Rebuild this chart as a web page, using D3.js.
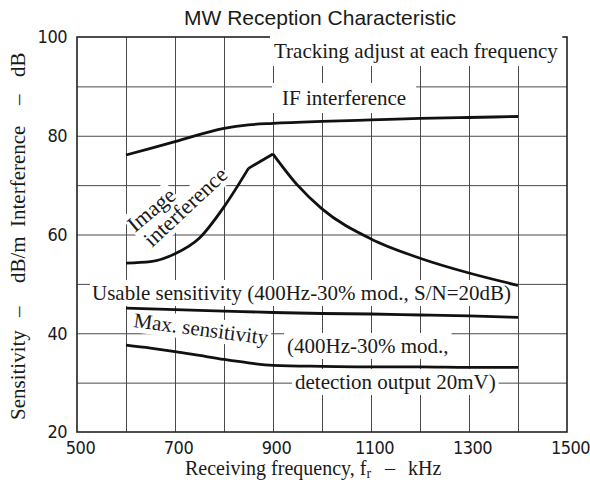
<!DOCTYPE html>
<html><head><meta charset="utf-8">
<script src="https://cdn.jsdelivr.net/npm/d3@7/dist/d3.min.js"></script>
<style>
body{margin:0;background:#fff}
svg{display:block}
</style></head><body>
<svg id="chart" width="590" height="488"></svg>
<script>
// ---- data ----
const xTicks = [500, 700, 900, 1100, 1300, 1500];
const yTicks = [20, 40, 60, 80, 100];

const ifFreq   = [600, 700, 800, 850, 900, 1000, 1100, 1200, 1300, 1400];
const ifValues = [76.1, 78.8, 81.5, 82.2, 82.5, 82.9, 83.2, 83.5, 83.7, 83.9];

const imageFreq   = [600, 650, 700, 750, 800, 850, 900, 950, 1000, 1100, 1200, 1300, 1400];
const imageValues = [54.2, 54.5, 56.1, 59.3, 65.6, 73.4, 76.3, 70.0, 65.2, 59.1, 55.2, 52.2, 49.7];

const usableFreq   = [600, 700, 800, 900, 1000, 1100, 1200, 1300, 1400];
const usableValues = [45.1, 44.8, 44.5, 44.2, 44.0, 43.9, 43.7, 43.5, 43.2];

const maxFreq   = [600, 650, 700, 750, 800, 850, 900, 1000, 1100, 1200, 1300, 1400];
const maxValues = [37.6, 37.0, 36.3, 35.5, 34.7, 34.0, 33.5, 33.3, 33.2, 33.2, 33.1, 33.1];

// ---- setup ----
const svg = d3.select("#chart");
const x = d3.scaleLinear().domain([500, 1500]).range([77, 567]);
const y = d3.scaleLinear().domain([20, 100]).range([432, 37]);
const serif = "'Liberation Serif','Times New Roman',serif";
const tickFont = "'Liberation Sans Narrow','Arial Narrow','DejaVu Sans Condensed',sans-serif";
const ink = "#1a1a1a";

svg.append("rect").attr("width", 590).attr("height", 488).attr("fill", "#fff");

const gridLayer = svg.append("g");
const boxLayer = svg.append("g");
const curveLayer = svg.append("g");
const textLayer = svg.append("g");

// grid via axes
gridLayer.append("g")
  .attr("transform", `translate(0,${y(20)})`)
  .call(d3.axisBottom(x).tickValues(d3.range(600, 1500, 100)).tickSize(-(y(20) - y(100))).tickFormat(""))
  .call(g => g.select(".domain").remove())
  .call(g => g.selectAll("line").attr("stroke", "#4a4a4a").attr("stroke-width", 1));
gridLayer.append("g")
  .attr("transform", `translate(${x(500)},0)`)
  .call(d3.axisLeft(y).tickValues(d3.range(30, 100, 10)).tickSize(-(x(1500) - x(500))).tickFormat(""))
  .call(g => g.select(".domain").remove())
  .call(g => g.selectAll("line").attr("stroke", "#4a4a4a").attr("stroke-width", 1));

// frame
gridLayer.append("rect")
  .attr("x", x(500)).attr("y", y(100))
  .attr("width", x(1500) - x(500)).attr("height", y(20) - y(100))
  .attr("fill", "none").attr("stroke", "#222").attr("stroke-width", 1.6);

// tick labels
const xAxisG = svg.append("g")
  .attr("transform", `translate(3,${y(20)})`)
  .call(d3.axisBottom(x).tickValues(xTicks).tickSize(0).tickPadding(9).tickFormat(d3.format("d")));
xAxisG.select(".domain").remove();
xAxisG.selectAll("text").attr("font-family", tickFont).attr("font-size", 18).attr("fill", ink).attr("letter-spacing", -0.5);

const yAxisG = svg.append("g")
  .attr("transform", `translate(${x(500)},0)`)
  .call(d3.axisLeft(y).tickValues(yTicks).tickSize(0).tickPadding(10).tickFormat(d3.format("d")));
yAxisG.select(".domain").remove();
yAxisG.selectAll("text").attr("font-family", tickFont).attr("font-size", 18).attr("fill", ink).attr("letter-spacing", -0.5);

// title
svg.append("text").attr("x", 320).attr("y", 25).attr("text-anchor", "middle")
  .attr("font-family", "'Liberation Sans',Arial,sans-serif").attr("font-size", 21).attr("fill", ink)
  .text("MW Reception Characteristic");

// x axis title
const xt = svg.append("text").attr("y", 475).attr("font-family", serif).attr("font-size", 20).attr("fill", ink);
xt.append("tspan").attr("x", 185).text("Receiving frequency, f");
xt.append("tspan").attr("font-size", 14).attr("dy", 3).text("r");
xt.append("tspan").attr("x", 385).attr("dy", -3).text("–");
xt.append("tspan").attr("x", 408).text("kHz");

// y axis title
const yt = svg.append("text").attr("transform", "translate(25,420) rotate(-90)")
  .attr("font-family", serif).attr("font-size", 21).attr("fill", ink);
[[0, "Sensitivity"], [103, "–"], [137, "dB/m"], [193, "Interference"], [315, "–"], [343, "dB"]]
  .forEach(([px, t]) => yt.append("tspan").attr("x", px).text(t));

// curves
const line = (curve) => d3.line().x(d => x(d[0])).y(d => y(d[1])).curve(curve);
const zipped = (f, v) => f.map((d, i) => [d, v[i]]);
function drawPath(pts, curve) {
  curveLayer.append("path").attr("d", line(curve)(pts))
    .attr("fill", "none").attr("stroke", "#111").attr("stroke-width", 2.8)
    .attr("stroke-linejoin", "miter");
}
drawPath(zipped(ifFreq, ifValues), d3.curveMonotoneX);
const img = zipped(imageFreq, imageValues);
drawPath(img.slice(0, 6), d3.curveMonotoneX);
drawPath(img.slice(5, 7), d3.curveLinear);
drawPath(img.slice(6), d3.curveMonotoneX);
drawPath(zipped(usableFreq, usableValues), d3.curveMonotoneX);
drawPath(zipped(maxFreq, maxValues), d3.curveMonotoneX);

// labels with white boxes behind them
function label(txt, tx, ty, rot, padX, padY, size) {
  const tr = `translate(${tx},${ty}) rotate(${rot})`;
  const bg = boxLayer.append("g").attr("transform", tr);
  const tg = textLayer.append("g").attr("transform", tr);
  const t = tg.append("text").attr("font-family", serif).attr("font-size", size || 21).attr("fill", ink).text(txt);
  const b = t.node().getBBox();
  bg.append("rect").attr("x", b.x - padX).attr("y", b.y - padY)
    .attr("width", b.width + 2 * padX).attr("height", b.height + 2 * padY).attr("fill", "#fff");
}
label("Tracking adjust at each frequency", 274, 58, 0, 4, 3);
label("IF interference", 282, 105, 0, 10, 3);
label("Usable sensitivity (400Hz-30% mod., S/N=20dB)", 92, 300, 0, 2, 1);
label("Max. sensitivity", 133, 327, 7.5, 2, 0);
label("(400Hz-30% mod.,", 287, 353, 0, 3, 1);
label("detection output 20mV)", 295, 389, 0, 3, 1);
label("Image", 135, 233, -40, 1, 0, 22);
label("interference", 152, 248, -43, 1, 0, 22);
</script>
</body></html>
